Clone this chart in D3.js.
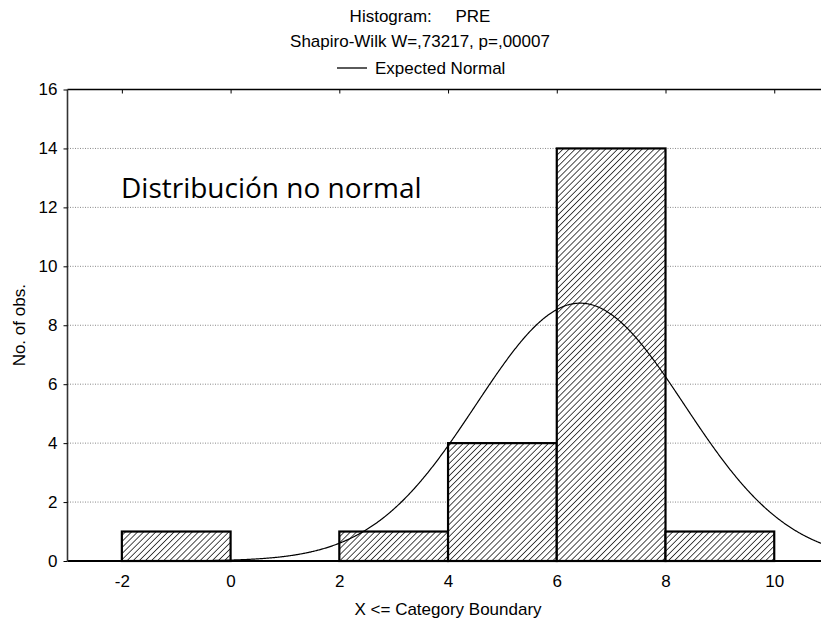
<!DOCTYPE html>
<html>
<head>
<meta charset="utf-8">
<script src="https://cdn.jsdelivr.net/npm/d3@7"></script>
<style>
html,body{margin:0;padding:0;background:#fff;}
svg{display:block;}
</style>
</head>
<body>
<svg id="chart" width="821" height="622"></svg>
<script>
// ---- data ----
const binStarts = [-2, 0, 2, 4, 6, 8];
const binEnds   = [0, 2, 4, 6, 8, 10];
const counts    = [1, 0, 1, 4, 14, 1];
const xTicks = [-2, 0, 2, 4, 6, 8, 10];
const yTicks = [0, 2, 4, 6, 8, 10, 12, 14, 16];
const normalMean = 6.43;
const normalSd = 1.915;
const sampleN = 21;
const binWidth = 2;
const titleLines = ["Histogram:     PRE", "Shapiro-Wilk W=,73217, p=,00007"];
const legendLabel = "Expected Normal";
const xLabel = "X <= Category Boundary";
const yLabel = "No. of obs.";
const annotation = "Distribución no normal";

(function(){
const svg = d3.select("#chart");
const pL = 67.5, pR = 828.6, pT = 89.5, pB = 561;
const x = d3.scaleLinear().domain([-3, 11]).range([pL, pR]);
const y = d3.scaleLinear().domain([0, 16]).range([pB, pT]);
const tf = "'Liberation Sans', Arial, sans-serif";
const fs = 17;

const defs = svg.append("defs");
const pw = 4.3;
const pat = defs.append("pattern").attr("id","hatch").attr("patternUnits","userSpaceOnUse")
  .attr("width",pw).attr("height",pw).attr("patternTransform","rotate(45)");
pat.append("rect").attr("width",pw).attr("height",pw).attr("fill","#fff");
pat.append("line").attr("x1",0).attr("y1",0).attr("x2",0).attr("y2",pw)
  .attr("stroke","#000").attr("stroke-width",1.4);

defs.append("clipPath").attr("id","plotclip").append("rect")
  .attr("x",pL).attr("y",pT).attr("width",821-pL).attr("height",pB-pT);

// gridlines
svg.append("g").selectAll("line").data(yTicks.filter(d=>d>0 && d<16)).join("line")
  .attr("x1",pL).attr("x2",821).attr("y1",d=>y(d)).attr("y2",d=>y(d))
  .attr("stroke","#888").attr("stroke-width",1).attr("stroke-dasharray","1,1.5");

// bars
const bins = binStarts.map((s,i)=>({s, e:binEnds[i], c:counts[i]})).filter(d=>d.c>0);
svg.append("g").selectAll("rect").data(bins).join("rect")
  .attr("x",d=>x(d.s)).attr("y",d=>y(d.c))
  .attr("width",d=>x(d.e)-x(d.s)).attr("height",d=>y(0)-y(d.c))
  .attr("fill","url(#hatch)").attr("stroke","#000").attr("stroke-width",2.2);

// normal curve
const pdf = v => sampleN*binWidth/(normalSd*Math.sqrt(2*Math.PI))*Math.exp(-((v-normalMean)**2)/(2*normalSd*normalSd));
const xs = d3.range(0, 1001).map(i => -3 + i*14/1000);
svg.append("path").datum(xs).attr("clip-path","url(#plotclip)")
  .attr("d", d3.line().x(d=>x(d)).y(d=>y(pdf(d))))
  .attr("fill","none").attr("stroke","#000").attr("stroke-width",1.2);

// axes frame
svg.append("line").attr("x1",pL).attr("x2",821).attr("y1",pT).attr("y2",pT).attr("stroke","#000").attr("stroke-width",1.6);
svg.append("line").attr("x1",pL).attr("x2",821).attr("y1",pB).attr("y2",pB).attr("stroke","#000").attr("stroke-width",1.8);
svg.append("line").attr("x1",pL).attr("x2",pL).attr("y1",pT).attr("y2",pB).attr("stroke","#333").attr("stroke-width",1.6);

// y axis
const yAxis = d3.axisLeft(y).tickValues(yTicks).tickSize(4).tickPadding(6).tickFormat(d => String(d));
const gy = svg.append("g").attr("transform",`translate(${pL},0)`).call(yAxis);
gy.select(".domain").remove();
gy.selectAll("text").attr("font-family",tf).attr("font-size",fs).attr("fill","#000");

// x axis bottom labels
const xAxis = d3.axisBottom(x).tickValues(xTicks).tickSize(0).tickPadding(14).tickFormat(d => String(d));
const gx = svg.append("g").attr("transform",`translate(0,${pB})`).call(xAxis);
gx.select(".domain").remove();
gx.selectAll("text").attr("font-family",tf).attr("font-size",fs).attr("fill","#000");

// top ticks
const gt = svg.append("g").attr("transform",`translate(0,${pT})`).call(d3.axisBottom(x).tickValues(xTicks).tickSize(4).tickFormat(""));
gt.select(".domain").remove();

// titles
svg.append("text").attr("x",420).attr("y",22).attr("text-anchor","middle").attr("font-family",tf).attr("font-size",fs).style("white-space","pre").text(titleLines[0]);
svg.append("text").attr("x",420).attr("y",47).attr("text-anchor","middle").attr("font-family",tf).attr("font-size",fs).text(titleLines[1]);
svg.append("line").attr("x1",337).attr("x2",367).attr("y1",68).attr("y2",68).attr("stroke","#000").attr("stroke-width",1.3);
svg.append("text").attr("x",375).attr("y",73.5).attr("font-family",tf).attr("font-size",fs).text(legendLabel);

svg.append("text").attr("x",(pL+pR)/2).attr("y",615).attr("text-anchor","middle").attr("font-family",tf).attr("font-size",fs).text(xLabel);
svg.append("text").attr("transform",`translate(25,${(pT+pB)/2}) rotate(-90)`).attr("text-anchor","middle").attr("font-family",tf).attr("font-size",fs).text(yLabel);

svg.append("text").attr("x",121).attr("y",198).attr("font-family","'Open Sans', 'Noto Sans', sans-serif").attr("font-size",28).text(annotation);
})();
</script>
</body>
</html>
